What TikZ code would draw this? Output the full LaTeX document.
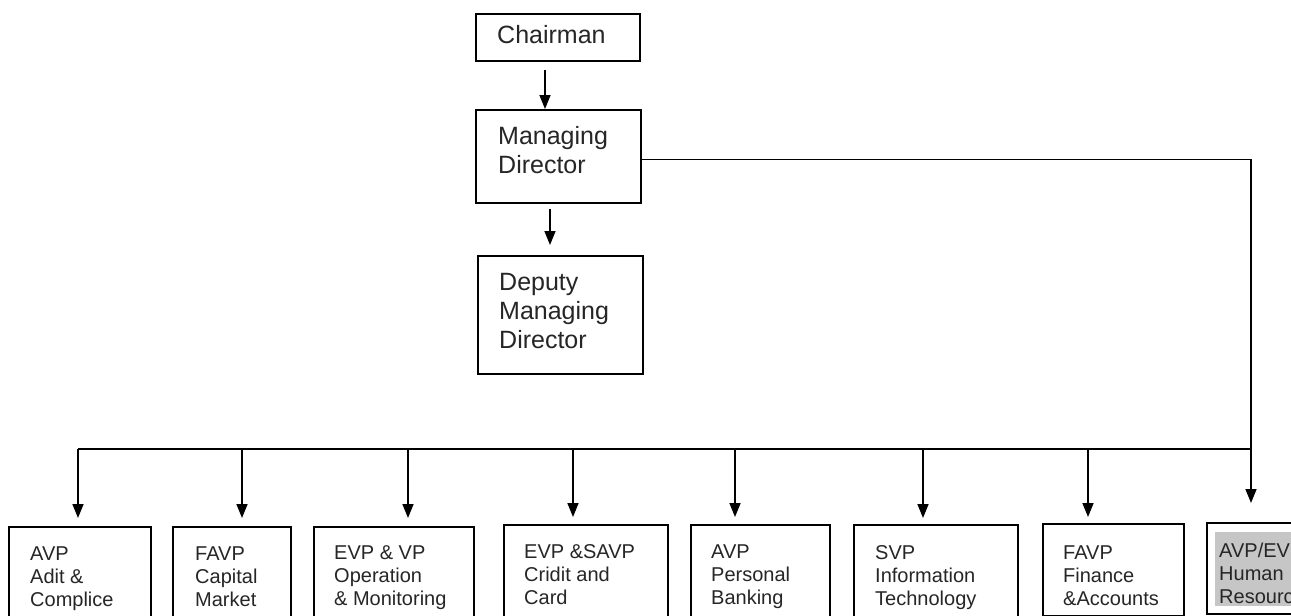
\documentclass[tikz,border=0pt]{standalone}
\usepackage{fontspec}
\setmainfont{Liberation Sans}
\usetikzlibrary{arrows.meta}
\begin{document}
\begin{tikzpicture}[x=1pt,y=-1pt,
  ln/.style={line width=1.6pt},
  box/.style={draw, line width=1.6pt, rectangle, anchor=north west, inner sep=0pt},
  toptxt/.style={anchor=north west, inner sep=0pt, align=left,
     font=\fontsize{25}{29}\selectfont, text=black!85},
  bottxt/.style={anchor=north west, inner sep=0pt, align=left,
     font=\fontsize{20}{23.2}\selectfont, text=black!85},
  arr/.style={-{Triangle[length=14pt,width=11pt]}, line width=1.6pt}]
\useasboundingbox (0,0) rectangle (1291,616);
\clip (0,0) rectangle (1291,616);
\fill[white] (0,0) rectangle (1291,616);

% top boxes
\node[box, minimum width=164pt, minimum height=47pt] (ch) at (475,13) {};
\node[box, minimum width=165pt, minimum height=93pt] (md) at (475,109) {};
\node[box, minimum width=165pt, minimum height=118pt] (dep) at (477,255) {};
\node[toptxt] (lch) at (497,23) {\strut Chairman};
\node[toptxt] (lmd) at (498,124) {\strut Managing\\Director};
\node[toptxt] (ldep) at (499,270) {\strut Deputy\\Managing\\Director};

% bottom boxes
\node[box, minimum width=142pt, minimum height=100pt] (b1) at (8,526) {};
\node[box, minimum width=118pt, minimum height=100pt] (b2) at (172,526) {};
\node[box, minimum width=160pt, minimum height=100pt] (b3) at (313,526) {};
\node[box, minimum width=164pt, minimum height=100pt] (b4) at (503,524) {};
\node[box, minimum width=139pt, minimum height=100pt] (b5) at (690,524) {};
\node[box, minimum width=164pt, minimum height=100pt] (b6) at (853,524) {};
\node[box, minimum width=141pt, minimum height=92pt] (b7) at (1042,523) {};
\node[box, minimum width=150pt, minimum height=91pt] (b8) at (1206,522) {};
\fill[gray!45] (1215,532) rectangle (1300,606);

\node[bottxt] (l1) at (30,544) {\strut AVP\\Adit \&\\Complice};
\node[bottxt] (l2) at (195,544) {\strut FAVP\\Capital\\Market};
\node[bottxt] (l3) at (334,543) {\strut EVP \& VP\\Operation\\\& Monitoring};
\node[bottxt] (l4) at (524,542) {\strut EVP \&SAVP\\Cridit and\\Card};
\node[bottxt] (l5) at (711,542) {\strut AVP\\Personal\\Banking};
\node[bottxt] (l6) at (875,543) {\strut SVP\\Information\\Technology};
\node[bottxt] (l7) at (1063,543) {\strut FAVP\\Finance\\\&Accounts};
\node[bottxt] (l8) at (1219,541) {\strut AVP/EVP\\Human\\Resource};

% top connectors
\draw[arr, shorten <=8pt] (ch.south -| 545,0) -- (md.north -| 545,0);
\draw[arr, shorten <=5pt, shorten >=10pt] (md.south -| 550,0) -- (dep.north -| 550,0);

% bus
\coordinate (t1) at (78,449);
\coordinate (t2) at (242,449);
\coordinate (t3) at (408,449);
\coordinate (t4) at (573,449);
\coordinate (t5) at (735,449);
\coordinate (t6) at (923,449);
\coordinate (t7) at (1088,449);
\coordinate (t8) at (1251,449);
\draw[arr, shorten >=19pt] ([yshift=-3pt]md.east) -| (b8.north -| t8);
\draw[ln] (t1) -- (t8);
\draw[arr, shorten >=8pt] (t1) -- (t1 |- b1.north);
\draw[arr, shorten >=8pt] (t2) -- (t2 |- b2.north);
\draw[arr, shorten >=8pt] (t3) -- (t3 |- b3.north);
\draw[arr, shorten >=7pt] (t4) -- (t4 |- b4.north);
\draw[arr, shorten >=7pt] (t5) -- (t5 |- b5.north);
\draw[arr, shorten >=6pt] (t6) -- (t6 |- b6.north);
\draw[arr, shorten >=6pt] (t7) -- (t7 |- b7.north);
\end{tikzpicture}
\end{document}
